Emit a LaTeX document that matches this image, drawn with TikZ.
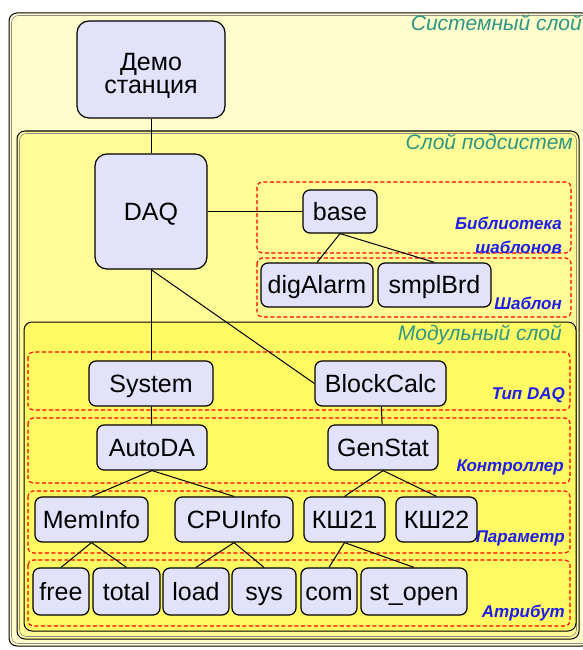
\documentclass[tikz,border=0pt]{standalone}
\usepackage{fontspec}
\setmainfont{Liberation Sans}
\definecolor{boxfill}{RGB}{226,226,250}
\definecolor{syslayer}{RGB}{255,253,204}
\definecolor{sublayer}{RGB}{255,251,150}
\definecolor{modlayer}{RGB}{255,249,100}
\definecolor{layertext}{RGB}{45,150,135}
\definecolor{grouptext}{RGB}{30,30,235}
\begin{document}
\begin{tikzpicture}[x=1pt,y=-1pt,
		blk/.style={draw,line width=1.2pt,fill=boxfill,rounded corners=7pt,inner sep=0pt,minimum height=45pt,text height=21pt,text depth=4pt,font=\fontsize{25}{23}\selectfont},
		layer/.style={draw,line width=1pt,rounded corners=8pt},
		layerin/.style={draw=black!45,line width=0.6pt,rounded corners=7pt},
		grp/.style={draw=red,line width=1.1pt,dash pattern=on 4pt off 2.5pt,rounded corners=5pt},
		layerlabel/.style={anchor=east,text=layertext,inner sep=0pt,font=\fontsize{21}{24}\selectfont\itshape},
		grplabel/.style={anchor=east,text=grouptext,inner sep=0pt,align=right,font=\fontsize{17}{24}\selectfont\bfseries\itshape},
		link/.style={line width=1pt}]
		\useasboundingbox (0,0) rectangle (582,650);
		\draw[layer,fill=syslayer] (9,13) rectangle (590,646);
		\draw[layerin] (11.5,15.5) rectangle (590,643.5);
		\draw[layer,fill=sublayer] (17,131) rectangle (579,639);
		\draw[layerin] (19.5,133.5) rectangle (576.5,636.5);
		\draw[layer,fill=modlayer] (24,322) rectangle (576,631);
		\foreach \top/\bot in {352/410,418/483,491/553,560/626} {
			\draw[grp] (28,\top) rectangle (570,\bot);
		}
		\draw[grp] (257,182) rectangle (571,253);
		\draw[grp] (257,258) rectangle (571,317);

		\node[layerlabel] (lsys) at (582,23) {Системный слой};
		\node[layerlabel] (lsub) at (573,142) {Слой подсистем};
		\node[layerlabel] (lmod) at (562,335) {Модульный слой};
		\node[grplabel] (llib) at (562,235) {Библиотека\\шаблонов};
		\node[grplabel] (ltmpl) at (562,303) {Шаблон};
		\node[grplabel] (ltype) at (565,395) {Тип DAQ};
		\node[grplabel] (lctrl) at (564,467) {Контроллер};
		\node[grplabel] (lparam) at (565,538) {Параметр};
		\node[grplabel] (lattr) at (565,613) {Атрибут};

		\node[blk,align=center,rounded corners=12pt,minimum width=148pt,minimum height=97pt,text height=52pt,text depth=4pt] (demo) at (151,69.5) {Демо\\станция};
		\node[blk,rounded corners=12pt,minimum width=112pt,minimum height=115pt] (daq) at (151,211.5) {DAQ};
		\node[blk,minimum width=74pt,minimum height=43pt] (base) at (340,211.5) {base};
		\node[blk,minimum width=112pt,minimum height=44pt] (digalarm) at (317,285) {digAlarm};
		\node[blk,minimum width=113pt,minimum height=44pt] (smplbrd) at (434.5,285) {smplBrd};

		\node[blk,minimum width=124pt] (system) at (151,383.5) {System};
		\node[blk,minimum width=131pt] (blockcalc) at (380.5,383.5) {BlockCalc};
		\node[blk,minimum width=110pt] (autoda) at (152,447.5) {AutoDA};
		\node[blk,minimum width=110pt] (genstat) at (383,447.5) {GenStat};
		\node[blk,minimum width=113pt] (meminfo) at (91.5,519.5) {MemInfo};
		\node[blk,minimum width=118pt] (cpuinfo) at (234,519.5) {CPUInfo};
		\node[blk,minimum width=81pt] (ksh21) at (344.5,519.5) {КШ21};
		\node[blk,minimum width=81pt] (ksh22) at (436.5,519.5) {КШ22};
		\node[blk,minimum width=56pt,minimum height=47pt] (free) at (61,591.5) {free};
		\node[blk,minimum width=67pt,minimum height=47pt] (total) at (126.5,591.5) {total};
		\node[blk,minimum width=66pt,minimum height=47pt] (load) at (196,591.5) {load};
		\node[blk,minimum width=64pt,minimum height=47pt] (sys) at (264,591.5) {sys};
		\node[blk,minimum width=56pt,minimum height=47pt] (com) at (329,591.5) {com};
		\node[blk,minimum width=106pt,minimum height=47pt] (stopen) at (414,591.5) {st\_open};

		\draw[link] (demo) -- (daq);
		\draw[link] (daq) -- (base);
		\draw[link] (daq.south) -- (system);
		\draw[link] (daq.south) -- (blockcalc.west);
		\draw[link] (base.south) -- (digalarm.north);
		\draw[link] (base.south) -- (smplbrd.north);
		\draw[link] (system) -- (autoda);
		\draw[link] (blockcalc) -- (genstat);
		\foreach \parent/\child in {autoda/meminfo,autoda/cpuinfo,genstat/ksh21,genstat/ksh22,meminfo/free,meminfo/total,cpuinfo/load,cpuinfo/sys,ksh21/com,ksh21/stopen} {
			\draw[link] (\parent.south) -- (\child.north);
		}
	\end{tikzpicture}
\end{document}
